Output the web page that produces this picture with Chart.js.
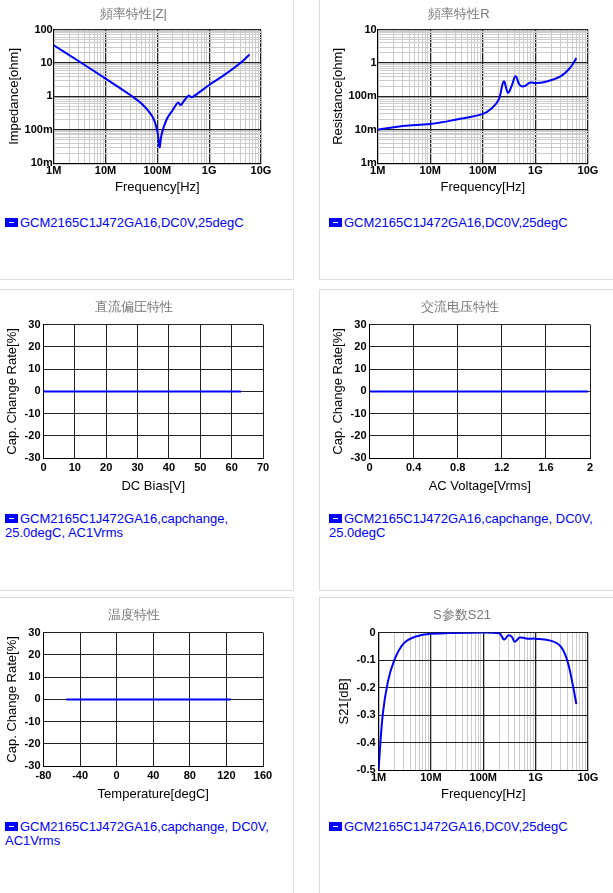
<!DOCTYPE html>
<html><head><meta charset="utf-8">
<script src="https://cdn.jsdelivr.net/npm/chart.js@4/dist/chart.umd.min.js"></script>
<style>
body{margin:0;background:#fff;font-family:Arial,"Liberation Sans","Noto Sans CJK SC",sans-serif;}
.card{position:absolute;border:1px solid #ddd;box-sizing:border-box;background:#fff}
.card canvas{position:absolute;left:0;top:0}
.leg{position:absolute;left:5px;color:#00f;font-size:13px;line-height:14px;width:270px}
.leg span.box{display:inline-block;width:13px;height:9px;background:#00f;margin-right:2px;vertical-align:0px;position:relative}
.leg span.box:after{content:"";position:absolute;left:4px;top:4px;width:5px;height:1px;background:#fff}
</style></head><body>
<div class="card" style="left:-1px;top:-1px;width:295px;height:281px"><canvas id="c1"></canvas><div class="leg" style="top:216px"><span class="box"></span>GCM2165C1J472GA16,DC0V,25degC</div></div>
<div class="card" style="left:319px;top:-1px;width:300px;height:281px"><canvas id="c2"></canvas><div class="leg" style="left:9px;top:216px"><span class="box"></span>GCM2165C1J472GA16,DC0V,25degC</div></div>
<div class="card" style="left:-1px;top:289px;width:295px;height:302px"><canvas id="c3"></canvas><div class="leg" style="top:222px"><span class="box"></span>GCM2165C1J472GA16,capchange, 25.0degC, AC1Vrms</div></div>
<div class="card" style="left:319px;top:289px;width:300px;height:302px"><canvas id="c4"></canvas><div class="leg" style="left:9px;top:222px"><span class="box"></span>GCM2165C1J472GA16,capchange, DC0V, 25.0degC</div></div>
<div class="card" style="left:-1px;top:597px;width:295px;height:300px"><canvas id="c5"></canvas><div class="leg" style="top:222px"><span class="box"></span>GCM2165C1J472GA16,capchange, DC0V, AC1Vrms</div></div>
<div class="card" style="left:319px;top:597px;width:300px;height:300px"><canvas id="c6"></canvas><div class="leg" style="left:9px;top:222px"><span class="box"></span>GCM2165C1J472GA16,DC0V,25degC</div></div>
<script>
// 周波数 [Hz]
const freqZ = [1e6,3e6,1e7,3e7,5e7,8e7,1e8,1.1e8,1.2e8,1.5e8,2e8,2.5e8,2.8e8,3.2e8,4e8,4.5e8,5e8,1e9,2e9,4e9,6e9]
const impedance = [34,11.5,3.4,1.1,0.6,0.25,0.09,0.03,0.07,0.2,0.4,0.65,0.55,0.7,1.05,0.95,1.0,2.2,4.5,10,18]
const freqR = [1e6,3e6,1e7,3e7,1e8,1.5e8,2e8,2.5e8,3e8,3.5e8,4.2e8,5e8,6e8,8e8,1e9,1.5e9,3e9,4.5e9,6e9]
const resistance = [0.01,0.013,0.015,0.02,0.03,0.045,0.08,0.28,0.13,0.2,0.4,0.22,0.2,0.26,0.25,0.27,0.4,0.7,1.4]
const freqS = [1e6,1.2e6,1.5e6,2e6,3e6,5e6,1e7,1e8,2e8,2.5e8,3e8,3.5e8,4e8,5e8,7e8,1e9,2e9,3e9,4e9,5e9,6e9]
const s21 = [-0.5,-0.3,-0.18,-0.1,-0.04,-0.015,-0.004,0,-0.002,-0.025,-0.01,-0.015,-0.033,-0.018,-0.022,-0.022,-0.03,-0.05,-0.1,-0.18,-0.26]
const dcBias = [0,63]
const dcChange = [0,0]
const acVolt = [0,1.98]
const acChange = [0,0]
const temps = [-55,125]
const tempChange = [0,0]
const freqLabels = {1e6:'1M',1e7:'10M',1e8:'100M',1e9:'1G',1e10:'10G'}

const pts = (xs, ys) => xs.map((x, i) => ({x: x, y: ys[i]}))
const isDecade = v => Math.abs(Math.log10(v) - Math.round(Math.log10(v))) < 1e-6
const logTicks = (min, max) => {
  const t = []
  for (let e = Math.round(Math.log10(min)); e < Math.round(Math.log10(max)); e++)
    for (let m = 1; m < 10; m++) t.push({value: m * Math.pow(10, e)})
  t.push({value: max})
  return t
}
const siLabel = v => {
  const e = Math.round(Math.log10(v))
  if (e < 0) return Math.pow(10, e + 3).toFixed(0) + 'm'
  return String(Math.round(v))
}
const tickFont = {size: 11, weight: 'bold', family: 'Arial'}
const titleFont = {size: 13, family: 'Arial'}

function logAxis(min, max, labelFn, title) {
  return {
    type: 'logarithmic', min: min, max: max,
    afterBuildTicks: ax => { ax.ticks = logTicks(min, max) },
    ticks: {autoSkip: false, maxRotation: 0, color: '#000', font: tickFont, padding: 1,
      callback: v => isDecade(v) ? labelFn(v) : ''},
    grid: {color: c => c.tick && isDecade(c.tick.value) ? '#222' : '#ccc',
      lineWidth: c => c.tick && isDecade(c.tick.value) ? 1.3 : 1, drawTicks: false},
    border: {color: '#000', width: 1},
    title: {display: true, text: title, color: '#000', font: titleFont, padding: 1}
  }
}
function linAxis(min, max, step, title, labelFn) {
  return {
    type: 'linear', min: min, max: max,
    ticks: {stepSize: step, color: '#000', font: tickFont, maxRotation: 0, padding: 3,
      callback: labelFn || (v => String(Math.round(v * 10) / 10))},
    grid: {color: '#222', drawTicks: false},
    border: {color: '#000', width: 1},
    title: {display: true, text: title, color: '#000', font: titleFont, padding: 1}
  }
}

function makeChart(id, w, h, title, data, xAxis, yAxis, pad, tpad) {
  const cv = document.getElementById(id)
  cv.width = w; cv.height = h
  cv.style.width = w + 'px'
  cv.style.height = h + 'px'
  new Chart(cv, {
    type: 'line',
    data: {datasets: [{data: data, borderColor: '#0000ff', borderWidth: 2, pointRadius: 0, tension: 0.4, fill: false}]},
    options: {
      responsive: false, animation: false,
      layout: {padding: pad},
      plugins: {legend: {display: false}, tooltip: {enabled: false},
        title: {display: true, text: title, color: '#777', font: {size: 13, weight: 'normal'}, padding: tpad}},
      scales: {x: xAxis, y: yAxis}
    }
  })
}

makeChart('c1', 293, 196, '頻率特性|Z|', pts(freqZ, impedance),
  logAxis(1e6, 1e10, v => freqLabels[v] || '', 'Frequency[Hz]'),
  logAxis(0.01, 100, siLabel, 'Impedance[ohm]'), {left: 6, right: 32}, {top: 7, bottom: 7})
makeChart('c2', 298, 196, '頻率特性R', pts(freqR, resistance),
  logAxis(1e6, 1e10, v => freqLabels[v] || '', 'Frequency[Hz]'),
  logAxis(0.001, 10, siLabel, 'Resistance[ohm]'), {left: 10, right: 30}, {top: 7, bottom: 7})
makeChart('c3', 293, 205, '直流偏圧特性', pts(dcBias, dcChange),
  linAxis(0, 70, 10, 'DC Bias[V]'), linAxis(-30, 30, 10, 'Cap. Change Rate[%]'), {left: 4, right: 30}, {top: 10, bottom: 9})
makeChart('c4', 298, 205, '交流电压特性', pts(acVolt, acChange),
  linAxis(0, 2, 0.4, 'AC Voltage[Vrms]'), linAxis(-30, 30, 10, 'Cap. Change Rate[%]'), {left: 10, right: 28}, {top: 10, bottom: 9})
makeChart('c5', 293, 205, '温度特性', pts(temps, tempChange),
  linAxis(-80, 160, 40, 'Temperature[degC]'), linAxis(-30, 30, 10, 'Cap. Change Rate[%]'), {left: 4, right: 30}, {top: 10, bottom: 9})
makeChart('c6', 298, 205, 'S参数S21', pts(freqS, s21),
  logAxis(1e6, 1e10, v => freqLabels[v] || '', 'Frequency[Hz]'),
  linAxis(-0.5, 0, 0.1, 'S21[dB]'), {left: 16, right: 30}, {top: 10, bottom: 9})
</script>
</body></html>
